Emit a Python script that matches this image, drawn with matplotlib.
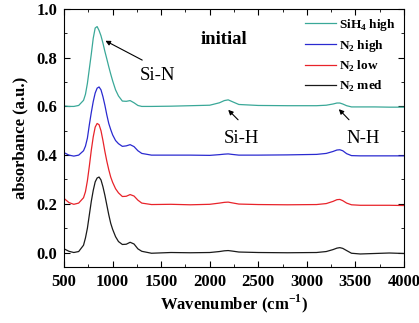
import numpy as np
import matplotlib
matplotlib.use('Agg')
import matplotlib.pyplot as plt
from matplotlib.ticker import MultipleLocator, FormatStrFormatter

plt.rcParams['font.family'] = ['Liberation Serif', 'DejaVu Serif']
plt.rcParams['mathtext.fontset'] = 'custom'
plt.rcParams['mathtext.rm'] = 'Liberation Serif'
plt.rcParams['mathtext.bf'] = 'Liberation Serif:bold'

# wavenumber grid (cm-1) and absorbance
wavenumber = [500, 550, 600, 650, 700, 720, 740, 760, 780, 800, 820, 840, 860, 880, 900,
              920, 940, 960, 980, 1000, 1030, 1060, 1100, 1140, 1180, 1220, 1260, 1300,
              1400, 1600, 1800, 2000, 2100, 2150, 2190, 2230, 2300, 2500, 2800, 3100, 3200,
              3270, 3310, 3340, 3370, 3410, 3460, 3550, 3700, 3850, 4000]

sih4_high = [0.602, 0.600, 0.600, 0.604, 0.625, 0.650, 0.695, 0.755, 0.815, 0.880, 0.922,
             0.928, 0.912, 0.890, 0.860, 0.826, 0.795, 0.763, 0.733, 0.705, 0.668, 0.643,
             0.622, 0.621, 0.624, 0.615, 0.604, 0.600,
             0.600, 0.601, 0.603, 0.605, 0.615, 0.624, 0.627, 0.620, 0.608, 0.604, 0.603,
             0.603, 0.605, 0.610, 0.614, 0.614, 0.610, 0.603, 0.598, 0.598, 0.598, 0.597, 0.597]

n2_high = [0.410, 0.400, 0.396, 0.400, 0.418, 0.437, 0.470, 0.525, 0.575, 0.620, 0.655,
           0.675, 0.680, 0.668, 0.640, 0.605, 0.565, 0.530, 0.505, 0.483, 0.460, 0.447,
           0.436, 0.438, 0.443, 0.435, 0.418, 0.407,
           0.400, 0.400, 0.400, 0.399, 0.402, 0.404, 0.405, 0.403, 0.400, 0.400, 0.401,
           0.403, 0.407, 0.415, 0.421, 0.422, 0.418, 0.406, 0.398, 0.397, 0.397, 0.397, 0.397]

n2_low = [0.222, 0.205, 0.198, 0.203, 0.225, 0.250, 0.295, 0.355, 0.420, 0.475, 0.515,
          0.530, 0.525, 0.500, 0.460, 0.415, 0.375, 0.340, 0.310, 0.288, 0.262, 0.245,
          0.230, 0.231, 0.238, 0.232, 0.215, 0.203,
          0.197, 0.198, 0.196, 0.198, 0.203, 0.206, 0.207, 0.204, 0.199, 0.197, 0.196,
          0.197, 0.201, 0.210, 0.217, 0.218, 0.213, 0.203, 0.196, 0.194, 0.194, 0.194, 0.193]

n2_med = [0.015, 0.005, 0.000, 0.004, 0.030, 0.060, 0.100, 0.155, 0.210, 0.255, 0.290,
          0.306, 0.310, 0.298, 0.270, 0.235, 0.195, 0.155, 0.120, 0.095, 0.065, 0.045,
          0.033, 0.034, 0.042, 0.035, 0.015, 0.005,
          -0.003, 0.000, -0.001, 0.000, 0.004, 0.007, 0.008, 0.006, 0.002, 0.000, -0.001,
          0.000, 0.004, 0.012, 0.018, 0.020, 0.017, 0.008, -0.003, -0.006, -0.004, -0.002, -0.004]

series = [
    ('SiH$_\\mathbf{4}$ high', sih4_high, '#3aa898'),
    ('N$_\\mathbf{2}$ high', n2_high, '#2a2ad0'),
    ('N$_\\mathbf{2}$ low', n2_low, '#e8232a'),
    ('N$_\\mathbf{2}$ med', n2_med, '#1a1a1a'),
]

fig = plt.figure(figsize=(4.19, 3.23), dpi=100)
ax = fig.add_axes([0.153, 0.173, 0.811, 0.799])

for label, y, c in series:
    ax.plot(wavenumber, y, color=c, lw=0.9, label=label)

ax.set_xlim(500, 4000)
ax.set_ylim(-0.06, 1.0)
ax.xaxis.set_major_locator(MultipleLocator(500))
ax.xaxis.set_minor_locator(MultipleLocator(250))
ax.yaxis.set_major_locator(MultipleLocator(0.2))
ax.yaxis.set_minor_locator(MultipleLocator(0.1))
ax.yaxis.set_major_formatter(FormatStrFormatter('%.1f'))
ax.tick_params(which='both', direction='in', top=True, right=True)
ax.tick_params(which='major', length=4, labelsize=12, pad=5)
ax.tick_params(which='minor', length=2.5)
for lab in ax.get_xticklabels() + ax.get_yticklabels():
    lab.set_fontweight('bold')

ax.set_xlabel('Wavenumber (cm$^{\\mathbf{-1}}$)', fontsize=12, fontweight='bold', labelpad=2)
ax.set_ylabel('absorbance (a.u.)', fontsize=12, fontweight='bold', labelpad=6)

leg = ax.legend(loc='upper right', frameon=False, fontsize=9.5, handlelength=2.35,
                borderaxespad=0.2, labelspacing=0.38, handletextpad=0.25)
for t in leg.get_texts():
    t.set_fontweight('bold')

ax.text(2147, 0.873, 'initial', fontsize=13.5, fontweight='bold', ha='center', va='center')

arrow = dict(arrowstyle='-|>', color='black', lw=0.8, mutation_scale=7)
ax.annotate('', xy=(900, 0.875), xytext=(1330, 0.785), arrowprops=arrow)
ax.text(1462, 0.725, 'Si-N', fontsize=13.5, ha='center', va='center')
ax.annotate('', xy=(2170, 0.594), xytext=(2312, 0.537), arrowprops=arrow)
ax.text(2322, 0.47, 'Si-H', fontsize=13.5, ha='center', va='center')
ax.annotate('', xy=(3310, 0.597), xytext=(3454, 0.537), arrowprops=arrow)
ax.text(3578, 0.47, 'N-H', fontsize=13.5, ha='center', va='center')

fig.savefig('out.png', dpi=100)
